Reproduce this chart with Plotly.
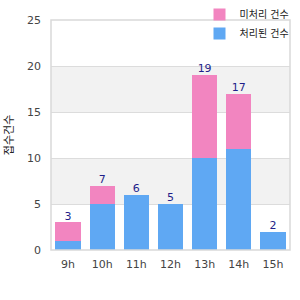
import plotly.graph_objects as go

categories = ["9h", "10h", "11h", "12h", "13h", "14h", "15h"]
done = [1, 5, 6, 5, 10, 11, 2]
pending = [2, 2, 0, 0, 9, 6, 0]
totals = [d + p for d, p in zip(done, pending)]
y_ticks = [0, 5, 10, 15, 20, 25]

blue = "#5fa8f3"
pink = "#f285c0"
font = "DejaVu Sans, Noto Sans CJK KR"

fig = go.Figure()
fig.add_trace(go.Bar(x=categories, y=done, name="처리된 건수", marker=dict(color=blue, line=dict(width=0))))
fig.add_trace(go.Bar(x=categories, y=pending, name="미처리 건수", marker=dict(color=pink, line=dict(width=0))))
fig.add_trace(go.Scatter(x=categories, y=totals, mode="text", text=[str(t) for t in totals],
                         textposition="top center", textfont=dict(color="#1f1f8a", size=11, family=font),
                         showlegend=False, hoverinfo="skip"))

shapes = []
for lo, hi in [(5, 10), (15, 20)]:
    shapes.append(dict(type="rect", xref="paper", yref="y", x0=0, x1=1, y0=lo, y1=hi,
                       fillcolor="#f2f2f2", line=dict(width=0), layer="below"))
shapes.append(dict(type="rect", xref="paper", yref="paper", x0=0, x1=1, y0=0, y1=1,
                   line=dict(color="#d9d9d9", width=1.5), fillcolor="rgba(0,0,0,0)", layer="above"))

fig.update_layout(
    width=300, height=300,
    margin=dict(l=51, r=10, t=20, b=50, autoexpand=False),
    barmode="stack", bargap=0.26,
    plot_bgcolor="white", paper_bgcolor="white",
    font=dict(family=font, size=11, color="#444"),
    shapes=shapes,
    legend=dict(x=0.665, y=1.0, xref="container", yref="container", xanchor="left", yanchor="top",
                traceorder="reversed", font=dict(size=10, color="#222"), bgcolor="rgba(0,0,0,0)",
                itemwidth=30, tracegroupgap=0),
    xaxis=dict(showgrid=False, showline=False, ticks="", ticklabelstandoff=6,
               tickfont=dict(size=11, color="#444")),
    yaxis=dict(range=[0, 25], tickvals=y_ticks, showgrid=True, gridcolor="#dcdcdc", gridwidth=1,
               zeroline=False, showline=False, ticks="", ticklabelstandoff=9,
               tickfont=dict(size=11, color="#444"),
               title=dict(text="접수건수", font=dict(size=11, color="#222"), standoff=11)),
    showlegend=True,
)
fig.write_html("out.html")
